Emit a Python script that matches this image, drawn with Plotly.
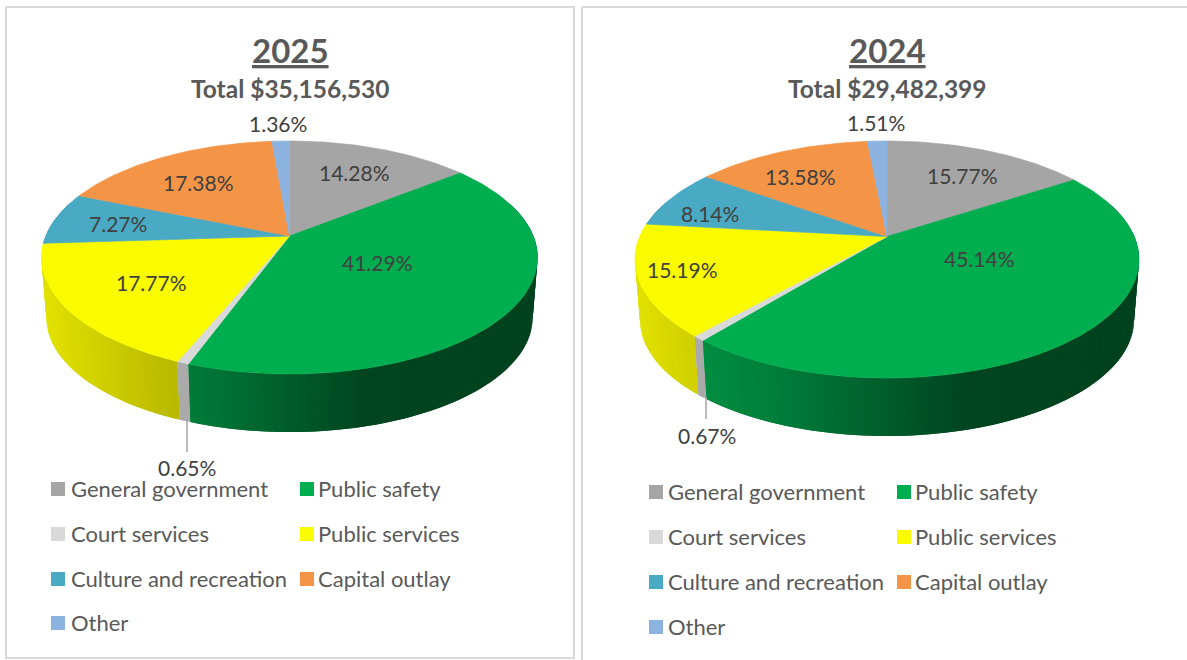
import numpy as np
import plotly.graph_objects as go

# ---------- data ----------
categories = ["General government", "Public safety", "Court services", "Public services",
              "Culture and recreation", "Capital outlay", "Other"]
values_2025 = [14.28, 41.29, 0.65, 17.77, 7.27, 17.38, 1.36]
values_2024 = [15.77, 45.14, 0.67, 15.19, 8.14, 13.58, 1.51]
titles = ["2025", "2024"]
totals = ["Total $35,156,530", "Total $29,482,399"]

# ---------- style ----------
top_colors = ["#a5a5a5", "#00ad4f", "#d9d9d9", "#fbfb00", "#4aaac4", "#f39447", "#8cb3e0"]
side_colors = [(165, 165, 165), (0, 173, 79), (170, 170, 170), (251, 251, 0),
               (74, 170, 196), (243, 148, 71), (140, 179, 224)]
shade_t = [0.0, 0.30, 0.66, 1.0]
shade_f = [0.90, 0.72, 0.40, 0.38]

panels = [
    dict(values=values_2025, cx=289.5, cy=236.0, up=95.0, down=138.0, rx=248.0,
         title_x=290, title_y=50, total_y=88,
         label_xy=[(354, 172), (377, 262), (187, 467), (151, 282), (118, 223), (198, 182), (278, 123)],
         leader=(187, 420, 452),
         sw_x=(58, 307), tx_x=(69, 316), rows=(488, 533, 578, 622)),
    dict(values=values_2024, cx=887.0, cy=236.5, up=95.5, down=141.5, rx=252.0,
         title_x=887, title_y=50, total_y=88,
         label_xy=[(962, 175), (979, 258), (707, 435), (682, 269), (710, 213), (800, 176), (876, 122)],
         leader=(706, 397, 419),
         sw_x=(656, 904), tx_x=(666, 913), rows=(491, 536, 581, 626)),
]
DEPTH_SCALE = 0.98
DEPTH = 60.8
FONT = "Lato"
STEP = np.radians(1.0)

fig = go.Figure()


def poly(xs, ys, color, edge=0.7):
    fig.add_trace(go.Scatter(x=xs, y=ys, mode="lines", fill="toself", fillcolor=color,
                             line=dict(color=color, width=edge), hoverinfo="skip", showlegend=False))


annotations = []
for idx, p in enumerate(panels):
    k = (p["down"] / p["up"] - 1) / (p["down"] / p["up"] + 1)
    B = p["up"] * (1 + k)
    A = p["rx"] * np.sqrt(1 - k * k)

    def proj(th):
        u, v = np.sin(th), np.cos(th)
        w = 1 + k * v
        return A * u / w, B * v / w

    fracs = np.array(p["values"]) / sum(p["values"])
    edges = np.concatenate([[0], np.cumsum(fracs)]) * 2 * np.pi

    # side wall strips: drawn from high angle to low, each overlapping the previous one
    strips = []
    for i in range(len(fracs)):
        n = max(1, int(np.ceil((edges[i + 1] - edges[i]) / STEP)))
        ths = np.linspace(edges[i], edges[i + 1], n + 1)
        for j in range(n):
            mid = (ths[j] + ths[j + 1]) / 2
            if np.cos(mid) < 0.3:
                end = ths[min(j + 2, n)]
                strips.append((mid, i, ths[j], end, ths[j + 1]))
    strips.sort(key=lambda s: -s[0])
    for mid, i, a, b, tb in strips:
        ts = np.linspace(a, b, 5)
        px, py = proj(ts)
        xt = p["cx"] + px
        yt = p["cy"] - py
        xb = p["cx"] + DEPTH_SCALE * px
        yb = p["cy"] + DEPTH - DEPTH_SCALE * py
        cpx, _ = proj(mid)
        t = (cpx + p["rx"]) / (2 * p["rx"])
        f = float(np.interp(t, shade_t, shade_f))
        if i == 2:
            f = 1.0
        r, g, bl = side_colors[i]
        col = f"rgb({round(r * f)},{round(g * f)},{round(bl * f)})"
        poly(list(xt) + list(xb[::-1]) + [xt[0]], list(yt) + list(yb[::-1]) + [yt[0]], col, edge=0)

    # top surface
    for i in range(len(fracs)):
        n = max(2, int(np.ceil((edges[i + 1] - edges[i]) / STEP)))
        ts = np.linspace(edges[i], edges[i + 1], n + 1)
        px, py = proj(ts)
        poly([p["cx"]] + list(p["cx"] + px) + [p["cx"]],
             [p["cy"]] + list(p["cy"] - py) + [p["cy"]], top_colors[i])

    # leader line for the smallest slice
    lx, ly0, ly1 = p["leader"]
    fig.add_trace(go.Scatter(x=[lx, lx], y=[ly0, ly1], mode="lines",
                             line=dict(color="#a6a6a6", width=1.5), hoverinfo="skip", showlegend=False))

    # value labels
    for val, (lx, ly) in zip(p["values"], p["label_xy"]):
        annotations.append(dict(x=lx, y=ly, text=f"{val:.2f}%", showarrow=False,
                                font=dict(family=FONT, size=21, color="#404040"),
                                xanchor="center", yanchor="middle"))
    # titles
    annotations.append(dict(x=p["title_x"], y=p["title_y"], text=f"<b><u>{titles[idx]}</u></b>", showarrow=False,
                            font=dict(family=FONT, size=33, color="#595959"),
                            xanchor="center", yanchor="middle"))
    annotations.append(dict(x=p["title_x"], y=p["total_y"], text=f"<b>{totals[idx]}</b>", showarrow=False,
                            font=dict(family=FONT, size=24.5, color="#595959"),
                            xanchor="center", yanchor="middle"))

    # legend
    slots = [(0, 0), (1, 0), (0, 1), (1, 1), (0, 2), (1, 2), (0, 3)]
    for i, (c, r) in enumerate(slots):
        fig.add_trace(go.Scatter(x=[p["sw_x"][c]], y=[p["rows"][r] + 1], mode="markers",
                                 marker=dict(symbol="square", size=14, color=top_colors[i], line=dict(width=0)),
                                 hoverinfo="skip", showlegend=False))
        annotations.append(dict(x=p["tx_x"][c], y=p["rows"][r], text=categories[i], showarrow=False,
                                font=dict(family=FONT, size=22, color="#595959"),
                                xanchor="left", yanchor="middle"))

border = dict(color="#d9d9d9", width=2)
shapes = [
    dict(type="rect", xref="x", yref="y", x0=6, x1=574, y0=7, y1=658, line=border, layer="below"),
    dict(type="line", xref="x", yref="y", x0=582, x1=582, y0=7, y1=660, line=border, layer="below"),
    dict(type="line", xref="x", yref="y", x0=582, x1=1187, y0=7, y1=7, line=border, layer="below"),
]

fig.update_layout(
    width=1187, height=660, autosize=False,
    margin=dict(l=0, r=0, t=0, b=0),
    paper_bgcolor="white", plot_bgcolor="white",
    xaxis=dict(range=[0, 1187], visible=False, fixedrange=True),
    yaxis=dict(range=[660, 0], visible=False, fixedrange=True),
    annotations=annotations, shapes=shapes, showlegend=False,
)
fig.write_html("out.html", config={"displayModeBar": False},
               post_script="document.body.style.margin='0';")
